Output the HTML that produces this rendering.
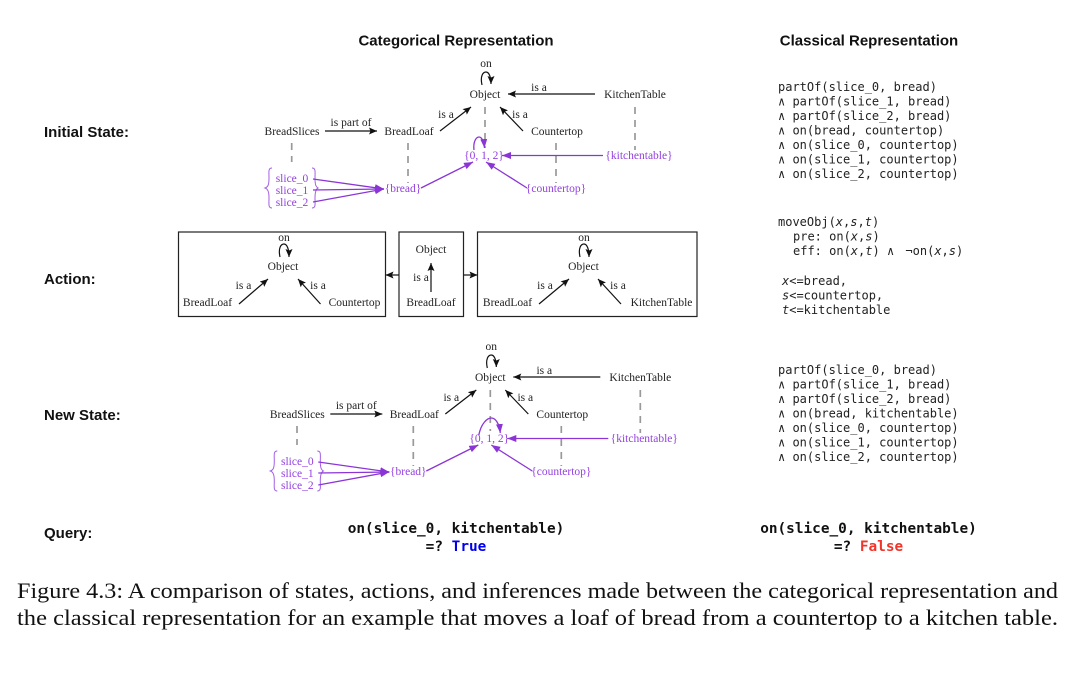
<!DOCTYPE html>
<html><head><meta charset="utf-8"><style>
html,body{margin:0;padding:0;background:#fff;width:1080px;height:677px;overflow:hidden}
svg{display:block}
.h{font:bold 15px "Liberation Sans",sans-serif;fill:#111}
.t{font:11.500px "Liberation Serif",serif;fill:#222;text-anchor:middle}
.p{font:11.500px "Liberation Serif",serif;fill:#9441e0;text-anchor:middle}
.m{font:12px "DejaVu Sans Mono",monospace;fill:#222}
.i{font-style:italic}
.q{font:bold 14.400px "DejaVu Sans Mono",monospace;fill:#111;text-anchor:middle}
.c{font:22px "Liberation Serif",serif;fill:#111}
.k{stroke:#111;stroke-width:1.200;fill:none}
.a{marker-end:url(#ka)}
.d{stroke:#999;stroke-width:1.700;stroke-dasharray:7 6;fill:none}
.v{stroke:#8b35d6;stroke-width:1.300;fill:none}
.va{marker-end:url(#pa)}
.b{stroke:#a45fe6;stroke-width:1;fill:none}
.box{fill:none;stroke:#222;stroke-width:1.200}
</style></head><body>
<svg width="1080" height="677" viewBox="0 0 1080 677" xmlns="http://www.w3.org/2000/svg">
<defs>
<marker id="ka" markerUnits="userSpaceOnUse" markerWidth="9" markerHeight="8" refX="8" refY="4" orient="auto"><path d="M0 0.500L8 4L0 7.500L1.500 4Z" fill="#111"/></marker>
<marker id="pa" markerUnits="userSpaceOnUse" markerWidth="10" markerHeight="8" refX="9" refY="4" orient="auto"><path d="M0 0.500L9 4L0 7.500Z" fill="#8b35d6"/></marker>
</defs>

<text class="h" x="456" y="45.500" text-anchor="middle">Categorical Representation</text>
<text class="h" x="869" y="45.500" text-anchor="middle">Classical Representation</text>
<text class="h" x="44" y="137">Initial State:</text>
<text class="h" x="44" y="284">Action:</text>
<text class="h" x="44" y="420">New State:</text>
<text class="h" x="44" y="538">Query:</text>

<!-- Initial state -->
<g>
<text class="t" x="486" y="67">on</text>
<path class="k a" d="M482 85C480 76 483 72 486 72C489 72 491 77 491 84"/>
<text class="t" x="485" y="98">Object</text>
<path class="k a" d="M595 94H508"/>
<text class="t" x="539" y="91">is a</text>
<text class="t" x="635" y="98">KitchenTable</text>
<text class="t" x="292" y="135">BreadSlices</text>
<text class="t" x="351" y="126">is part of</text>
<path class="k a" d="M325 131H377"/>
<text class="t" x="409" y="135">BreadLoaf</text>
<text class="t" x="446" y="118">is a</text>
<path class="k a" d="M440 131L471 107"/>
<path class="k a" d="M523 131L500 107"/>
<text class="t" x="520" y="118">is a</text>
<text class="t" x="557" y="135">Countertop</text>
<path class="d" d="M291.700 143V162M408 143V183M485 107V148M556 143V183M635 107V150"/>
<text class="p" x="484" y="159">{0, 1, 2}</text>
<text class="p" x="639" y="159">{kitchentable}</text>
<text class="p" x="403" y="192">{bread}</text>
<text class="p" x="556" y="192">{countertop}</text>
<text class="p" x="292" y="182">slice_0</text>
<text class="p" x="292" y="194">slice_1</text>
<text class="p" x="292" y="206">slice_2</text>
<path class="b" d="M272 168C268 168 269 172 269 178C269 185 268 187 265 188C268 189 269 192 269 198C269 204 268 208 272 208"/>
<path class="b" d="M312 168C316 168 315 172 315 178C315 185 316 187 318 188C316 189 315 192 315 198C315 204 316 208 312 208"/>
<path class="v va" d="M313 179L384 189"/>
<path class="v va" d="M313 190L384 189"/>
<path class="v va" d="M313 202L384 189"/>
<path class="v va" d="M421 188L473 162"/>
<path class="v va" d="M527 188L486 162"/>
<path class="v va" d="M603 155.500H502"/>
<path class="v va" d="M474 150C473 142 476 137 479 137C482 137 484 142 484.500 148"/>
</g>

<!-- Action -->
<rect class="box" x="178.500" y="232" width="207" height="84.500"/>
<rect class="box" x="399" y="232" width="64.500" height="84.500"/>
<rect class="box" x="477.500" y="232" width="219.500" height="84.500"/>
<text class="t" x="284" y="241">on</text>
<path class="k a" d="M280 257C278 248 281 244 284 244C287 244 289 249 289 257"/>
<text class="t" x="283" y="270">Object</text>
<text class="t" x="207.500" y="306">BreadLoaf</text>
<text class="t" x="354.500" y="306">Countertop</text>
<text class="t" x="243.500" y="289">is a</text>
<text class="t" x="318" y="289">is a</text>
<path class="k a" d="M239 304L268 279"/>
<path class="k a" d="M320.500 304L298 279"/>
<text class="t" x="431" y="253">Object</text>
<path class="k a" d="M431 292V263"/>
<text class="t" x="421" y="281">is a</text>
<text class="t" x="431" y="306">BreadLoaf</text>
<path class="k a" d="M399 275H385.500"/>
<path class="k a" d="M463.500 275H477.500"/>
<text class="t" x="584" y="241">on</text>
<path class="k a" d="M580 257C578 248 581 244 584 244C587 244 589 249 589 257"/>
<text class="t" x="583.500" y="270">Object</text>
<text class="t" x="507.500" y="306">BreadLoaf</text>
<text class="t" x="661.500" y="306">KitchenTable</text>
<text class="t" x="545" y="289">is a</text>
<text class="t" x="618" y="289">is a</text>
<path class="k a" d="M539 304L569 279"/>
<path class="k a" d="M621 304L598 279"/>

<!-- New state -->
<g transform="translate(5.300,283)">
<text class="t" x="486" y="67">on</text>
<path class="k a" d="M482 85C480 76 483 72 486 72C489 72 491 77 491 84"/>
<text class="t" x="485" y="98">Object</text>
<path class="k a" d="M595 94H508"/>
<text class="t" x="539" y="91">is a</text>
<text class="t" x="635" y="98">KitchenTable</text>
<text class="t" x="292" y="135">BreadSlices</text>
<text class="t" x="351" y="126">is part of</text>
<path class="k a" d="M325 131H377"/>
<text class="t" x="409" y="135">BreadLoaf</text>
<text class="t" x="446" y="118">is a</text>
<path class="k a" d="M440 131L471 107"/>
<path class="k a" d="M523 131L500 107"/>
<text class="t" x="520" y="118">is a</text>
<text class="t" x="557" y="135">Countertop</text>
<path class="d" d="M291.700 143V162M408 143V183M485 107V148M556 143V183M635 107V150"/>
<text class="p" x="484" y="159">{0, 1, 2}</text>
<text class="p" x="639" y="159">{kitchentable}</text>
<text class="p" x="403" y="192">{bread}</text>
<text class="p" x="556" y="192">{countertop}</text>
<text class="p" x="292" y="182">slice_0</text>
<text class="p" x="292" y="194">slice_1</text>
<text class="p" x="292" y="206">slice_2</text>
<path class="b" d="M272 168C268 168 269 172 269 178C269 185 268 187 265 188C268 189 269 192 269 198C269 204 268 208 272 208"/>
<path class="b" d="M312 168C316 168 315 172 315 178C315 185 316 187 318 188C316 189 315 192 315 198C315 204 316 208 312 208"/>
<path class="v va" d="M313 179L384 189"/>
<path class="v va" d="M313 190L384 189"/>
<path class="v va" d="M313 202L384 189"/>
<path class="v va" d="M421 188L473 162"/>
<path class="v va" d="M527 188L486 162"/>
<path class="v va" d="M603 155.500H502"/>
<path class="v va" d="M473.500 152C476 140 482 135 486 135C490 135 494 140 495 150"/>
</g>

<!-- Classical -->
<g class="m">
<text class="m" x="778" y="91">partOf(slice_0, bread)</text>
<text class="m" x="778" y="105.500">∧ partOf(slice_1, bread)</text>
<text class="m" x="778" y="120">∧ partOf(slice_2, bread)</text>
<text class="m" x="778" y="134.500">∧ on(bread, countertop)</text>
<text class="m" x="778" y="149">∧ on(slice_0, countertop)</text>
<text class="m" x="778" y="163.500">∧ on(slice_1, countertop)</text>
<text class="m" x="778" y="178">∧ on(slice_2, countertop)</text>

<text class="m" x="778" y="226">moveObj(<tspan class="i">x</tspan>,<tspan class="i">s</tspan>,<tspan class="i">t</tspan>)</text>
<text class="m" x="793" y="240.500">pre: on(<tspan class="i">x</tspan>,<tspan class="i">s</tspan>)</text>
<text class="m" x="793" y="255">eff: on(<tspan class="i">x</tspan>,<tspan class="i">t</tspan>) ∧ <tspan dx="4">¬on(</tspan><tspan class="i">x</tspan>,<tspan class="i">s</tspan>)</text>
<text class="m" x="782" y="285"><tspan class="i">x</tspan>&lt;=bread,</text>
<text class="m" x="782" y="299.500"><tspan class="i">s</tspan>&lt;=countertop,</text>
<text class="m" x="782" y="314"><tspan class="i">t</tspan>&lt;=kitchentable</text>

<text class="m" x="778" y="374">partOf(slice_0, bread)</text>
<text class="m" x="778" y="388.500">∧ partOf(slice_1, bread)</text>
<text class="m" x="778" y="403">∧ partOf(slice_2, bread)</text>
<text class="m" x="778" y="417.500">∧ on(bread, kitchentable)</text>
<text class="m" x="778" y="432">∧ on(slice_0, countertop)</text>
<text class="m" x="778" y="446.500">∧ on(slice_1, countertop)</text>
<text class="m" x="778" y="461">∧ on(slice_2, countertop)</text>
</g>

<!-- Query -->
<text class="q" x="456" y="533">on(slice_0, kitchentable)</text>
<text class="q" x="456" y="551">=? <tspan fill="#0000ee">True</tspan></text>
<text class="q" x="868.500" y="533">on(slice_0, kitchentable)</text>
<text class="q" x="868.500" y="551">=? <tspan fill="#f0352a">False</tspan></text>

<!-- Caption -->
<text class="c" x="17" y="598" textLength="1041" lengthAdjust="spacingAndGlyphs">Figure 4.3: A comparison of states, actions, and inferences made between the categorical representation and</text>
<text class="c" x="17" y="625" textLength="1041" lengthAdjust="spacingAndGlyphs">the classical representation for an example that moves a loaf of bread from a countertop to a kitchen table.</text>
</svg>
</body></html>
